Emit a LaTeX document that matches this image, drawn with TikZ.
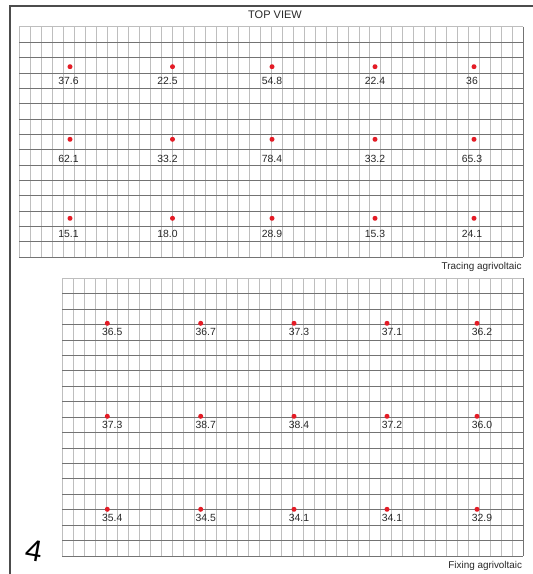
\documentclass[tikz,border=0pt]{standalone}
\usepackage{fontspec}
\setmainfont{Liberation Sans}
\usepackage{tikz}
\usetikzlibrary{positioning, calc}
\usepackage{xcolor}

\definecolor{gridlight}{RGB}{190,190,190}
\definecolor{griddark}{RGB}{115,115,115}
\definecolor{sensorred}{RGB}{228,28,38}
\definecolor{textgray}{RGB}{40,40,40}

\begin{document}
\begin{tikzpicture}[
        x=1pt, y=-1pt,
        vline/.style={draw=gridlight, line width=0.9pt},
        hline/.style={draw=griddark, line width=0.9pt},
        frame/.style={draw=black!70, line width=1.2pt},
        sensor/.style={
            circle,
            fill=sensorred,
            inner sep=0pt,
            minimum size=5pt
        },
        reading/.style={
            inner sep=0pt,
            text=textgray,
            font=\fontsize{10.4}{12}\selectfont
        },
        caption/.style={
            inner sep=0pt,
            text=textgray,
            font=\fontsize{9.9}{12}\selectfont
        }
    ]

        \useasboundingbox (0,0) rectangle (533,574);
        \fill[white] (0,0) rectangle (533,574);
        \draw[frame] (10,574) -- (10,6) -- (533,6);

        % tracing grid (46 x 15 cells)
        \foreach \i in {0,...,46}
            \draw[vline] ({19.3+\i*10.957},26.9) -- ({19.3+\i*10.957},257.3);
        \draw[vline] (19.3,26.9) -- (523.3,26.9);
        \foreach \j in {1,...,15}
            \draw[hline] (19.3,{26.9+\j*15.36}) -- (523.3,{26.9+\j*15.36});
        \draw[hline] (523.3,26.9) -- (523.3,257.3);

        % fixing grid (42 x 18 cells)
        \foreach \i in {0,...,42}
            \draw[vline] ({62.3+\i*10.976},278.3) -- ({62.3+\i*10.976},556);
        \draw[vline] (62.3,278.3) -- (523.3,278.3);
        \foreach \j in {1,...,18}
            \draw[hline] (62.3,{278.3+\j*15.428}) -- (523.3,{278.3+\j*15.428});
        \draw[hline] (523.3,278.3) -- (523.3,556);

        \coordinate (tcorner) at (523.3,257.3);
        \coordinate (fcorner) at (523.3,556);

        \node[inner sep=0pt, text=textgray, font=\fontsize{11}{13}\selectfont] (title) at (275,15) {TOP VIEW};

        % tracing readings
        \foreach \r/\yy/\gap/\a/\b/\c/\d/\e in {
                1/66.7/8/37.6/22.5/54.8/22.4/36,
                2/139.3/12.8/62.1/33.2/78.4/33.2/65.3,
                3/218.3/9.5/15.1/18.0/28.9/15.3/24.1} {
            \foreach \k/\xx/\dx/\v in {1/70/-1.5/\a, 2/172.5/-5/\b, 3/272/0/\c, 4/375/0/\d, 5/474/-2/\e} {
                \node[sensor] (t\r\k) at (\xx,\yy) {};
                \node[reading, below=\gap pt of t\r\k, xshift=\dx pt] (tv\r\k) {\v};
            }
        }

        % fixing readings
        \foreach \r/\yy/\a/\b/\c/\d/\e in {
                1/323.3/36.5/36.7/37.3/37.1/36.2,
                2/416.3/37.3/38.7/38.4/37.2/36.0,
                3/509.3/35.4/34.5/34.1/34.1/32.9} {
            \foreach \k/\xx/\v in {1/107.3/\a, 2/200.7/\b, 3/294/\c, 4/387/\d, 5/477/\e} {
                \node[sensor] (f\r\k) at (\xx,\yy) {};
                \node[reading, below=2pt of f\r\k, xshift=5pt] (fv\r\k) {\v};
            }
        }

        \node[caption, below left=5pt and 1.5pt of tcorner] (tracing) {Tracing agrivoltaic};
        \node[caption, below left=4.7pt and 1pt of fcorner] (fixing) {Fixing agrivoltaic};

        \node[inner sep=0pt, font=\fontsize{30}{30}\selectfont, rotate=-10] (panel) at (34,551) {4};

    \end{tikzpicture}
\end{document}
